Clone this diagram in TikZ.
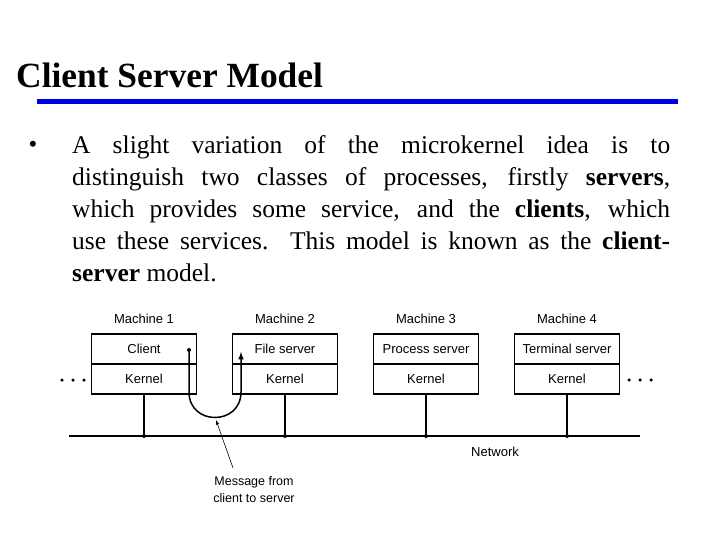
\documentclass[tikz,border=0pt]{standalone}
\usepackage{fontspec}
\setmainfont{Liberation Serif}
\setsansfont{Liberation Sans}
\begin{document}
\begin{tikzpicture}[x=1pt,y=-1pt,
  box/.style={draw,line width=1.1pt,minimum width=105pt,minimum height=30pt,inner sep=0pt,font=\sffamily\fontsize{13}{14}\selectfont},
  lab/.style={font=\sffamily\fontsize{13}{14}\selectfont,inner sep=0pt},
  net/.style={line width=1.3pt},
  dot/.style={circle,fill,inner sep=0pt,minimum size=4pt},
  sdot/.style={circle,fill,inner sep=0pt,minimum size=3.5pt}]
\useasboundingbox (0,0) rectangle (720,540);
\node[anchor=base west,inner sep=0pt,font=\bfseries\fontsize{35.4}{37}\selectfont] (title) at (16,88) {Client Server Model};
\draw[line width=5pt,color={rgb,255:red,0;green,0;blue,230}] (37,102) coordinate (b1) -- (678,102) coordinate (b2);
\node[anchor=base,inner sep=0pt,font=\fontsize{25}{32}\selectfont] (bul) at (33,153) {•};
\node[anchor=north west,inner sep=0pt,text width=598pt,align=justify,font=\fontsize{25.5}{32}\selectfont] (para) at (72,135) {A slight variation of the microkernel idea is to\linebreak distinguish two classes of processes, firstly \textbf{servers},\linebreak which provides some service, and the \textbf{clients}, which\linebreak use these services. This model is known as the \textbf{client-}\linebreak\textbf{server} model.\par};
\foreach \i/\x/\t in {1/144/Client,2/285/File server,3/426/Process server,4/567/Terminal server}{
  \node[box] (u\i) at (\x,349) {\t};
  \node[box] (k\i) at (\x,379) {Kernel};
  \node[lab] (m\i) at (\x,319) {Machine \i};
  \node[dot] (d\i) at (\x,436) {};
  \draw[net] (k\i.south) -- (d\i);
}
\coordinate (nl) at (69,436); \coordinate (nr) at (640,436);
\draw[net] (nl) -- (nr);
\node[lab] (netlab) at (495,452) {Network};
\foreach \j/\x in {1/62,2/73,3/84,4/629,5/640,6/651}{\node[sdot] (e\j) at (\x,380) {};}
\node[dot] (cd) at (189,350) {};
\coordinate (fs) at (241,352);
\draw[line width=1.5pt,-{latex}] (cd) -- (189,392) .. controls (189,426) and (241,426) .. (241,392) -- (fs);
\node[lab,align=center,font=\sffamily\fontsize{12.5}{17}\selectfont] (msg) at (254,490) {Message from\\client to server};
\draw[-{latex},line width=0.6pt] (233,468) -- (216,420);
\end{tikzpicture}
\end{document}
